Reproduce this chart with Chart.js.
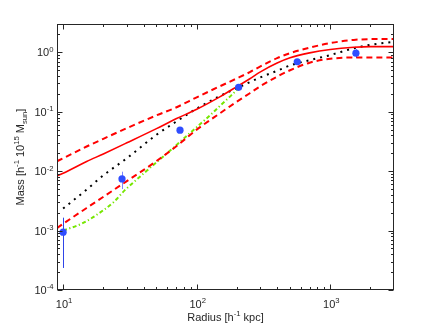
<!DOCTYPE html>
<html lang="en">
  <head>
    <meta charset="UTF-8" />
    <title>Mass profile</title>
    <script src="https://cdn.jsdelivr.net/npm/chart.js"></script>
    <style>
      html, body { margin: 0; padding: 0; background: #fff; }
      canvas { display: block; }
    </style>
  </head>
  <body>
    <canvas id="massChart" width="436" height="328"></canvas>

    <script>
      // best fit + 1 sigma band (red)
      const radiusFit = [9, 10, 15, 20, 30, 50, 70, 100, 150, 200, 250, 300, 400, 500, 700, 1000, 1500, 2000, 3000];
      const massBest  = [0.0083, 0.0092, 0.0145, 0.0195, 0.030, 0.052, 0.076, 0.11, 0.18, 0.265, 0.36, 0.47, 0.66, 0.81, 0.98, 1.12, 1.22, 1.25, 1.25];
      const massUpper = [0.0147, 0.0165, 0.026, 0.035, 0.053, 0.087, 0.118, 0.175, 0.27, 0.365, 0.465, 0.58, 0.80, 0.97, 1.20, 1.43, 1.62, 1.67, 1.68];
      const massLower = [0.0011, 0.0013, 0.0024, 0.0037, 0.0068, 0.0148, 0.026, 0.050, 0.095, 0.148, 0.205, 0.27, 0.39, 0.50, 0.67, 0.78, 0.82, 0.82, 0.82];

      // black dotted
      const radiusDot = [10, 15, 20, 30, 50, 70, 100, 150, 200, 250, 300, 400, 500, 700, 1000, 1500, 2000, 3000];
      const massDot   = [0.00235, 0.0049, 0.0085, 0.0165, 0.041, 0.068, 0.113, 0.185, 0.25, 0.315, 0.38, 0.49, 0.60, 0.74, 0.90, 1.17, 1.34, 1.50];

      // green dash-dot
      const radiusGreen = [10, 14, 20, 24, 29, 35, 43, 53, 63, 80, 100, 125, 150, 180, 210];
      const massGreen   = [0.0010, 0.00133, 0.0022, 0.00305, 0.0048, 0.0070, 0.0105, 0.0158, 0.022, 0.0355, 0.055, 0.086, 0.127, 0.185, 0.26];

      // measurements (blue)
      const radiusObs = [10, 27.6, 75, 206, 566, 1556];
      const massObs   = [0.00094, 0.0074, 0.049, 0.258, 0.695, 0.97];
      const errLow    = [0.000235, 0.0050, null, null, null, 0.80];
      const errHigh   = [0.00165, 0.0098, null, null, null, 1.12];

      const xMajorTicks = [10, 100, 1000];
      const xTickExp = ['1', '2', '3'];
      const yMajorTicks = [1e-4, 1e-3, 1e-2, 1e-1, 1];
      const yTickExp = ['-4', '-3', '-2', '-1', '0'];

      const FONT = "'Liberation Sans', Arial, sans-serif";
      const INK = '#262626';
      const FONT_SIZE = 11;

      function toXY(xs, ys) {
        return xs.map((r, i) => ({ x: r, y: ys[i] }));
      }

      function minorTicks(lo, hi) {
        const out = [];
        for (let d = 1e-5; d < 1e5; d *= 10) {
          for (let m = 2; m <= 9; m++) {
            const v = m * d;
            if (v > lo * 1.001 && v < hi * 0.999) out.push(v);
          }
        }
        return out;
      }

      // text with sup / sub parts
      function richWidth(ctx, parts, size) {
        let w = 0;
        parts.forEach(p => {
          ctx.font = (p.sup || p.sub ? size * 0.7 : size) + "px " + FONT;
          w += ctx.measureText(p.t).width;
        });
        return w;
      }
      function drawRich(ctx, parts, size, x, y) {
        let cx = x;
        parts.forEach(p => {
          const s = p.sup || p.sub ? size * 0.7 : size;
          ctx.font = s + "px " + FONT;
          const dy = p.sup ? -size * 0.42 : (p.sub ? size * 0.3 : 0);
          ctx.fillText(p.t, cx, y + dy);
          cx += ctx.measureText(p.t).width;
        });
      }

      const errorBars = {
        id: 'errorBars',
        beforeDatasetsDraw(chart) {
          const { ctx, scales: { x, y } } = chart;
          ctx.save();
          radiusObs.forEach((r, i) => {
            if (errLow[i] == null) return;
            const px = Math.round(x.getPixelForValue(r)) + 0.5;
            ctx.strokeStyle = i === 1 ? '#7d86ff' : '#2f45e8';
            ctx.lineWidth = 1;
            ctx.beginPath();
            ctx.moveTo(px, y.getPixelForValue(errLow[i]));
            ctx.lineTo(px, y.getPixelForValue(errHigh[i]));
            ctx.stroke();
          });
          ctx.restore();
        }
      };

      const boxAxes = {
        id: 'boxAxes',
        afterDraw(chart) {
          const { ctx, chartArea: a, scales: { x, y } } = chart;
          const L = Math.round(a.left) + 0.5, R = Math.round(a.right) - 0.5;
          const T = Math.round(a.top) + 0.5, B = Math.round(a.bottom) - 0.5;
          ctx.save();
          ctx.strokeStyle = INK;
          ctx.lineWidth = 1;
          ctx.strokeRect(L, T, R - L, B - T);

          ctx.beginPath();
          const xt = (v, len) => {
            const px = Math.round(x.getPixelForValue(v)) + 0.5;
            ctx.moveTo(px, B); ctx.lineTo(px, B - len);
            ctx.moveTo(px, T); ctx.lineTo(px, T + len);
          };
          const yt = (v, len) => {
            const py = Math.round(y.getPixelForValue(v)) + 0.5;
            ctx.moveTo(L, py); ctx.lineTo(L + len, py);
            ctx.moveTo(R, py); ctx.lineTo(R - len, py);
          };
          xMajorTicks.forEach(v => xt(v, 5));
          minorTicks(x.min, x.max).forEach(v => xt(v, 2.5));
          yMajorTicks.forEach(v => yt(v, 5));
          minorTicks(y.min, y.max).forEach(v => yt(v, 2.5));
          ctx.stroke();

          ctx.fillStyle = INK;
          ctx.textBaseline = 'alphabetic';
          ctx.textAlign = 'left';
          const size = FONT_SIZE;

          xMajorTicks.forEach((v, i) => {
            const parts = [{ t: '10' }, { t: xTickExp[i], sup: true }];
            const w = richWidth(ctx, parts, size);
            drawRich(ctx, parts, size, x.getPixelForValue(v) - w / 2 + 1, B + 18);
          });
          yMajorTicks.forEach((v, i) => {
            const parts = [{ t: '10' }, { t: yTickExp[i], sup: true }];
            const w = richWidth(ctx, parts, size);
            drawRich(ctx, parts, size, L - 4 - w, y.getPixelForValue(v) + 4);
          });

          const xTitle = [{ t: 'Radius [h' }, { t: '-1', sup: true }, { t: ' kpc]' }];
          const xw = richWidth(ctx, xTitle, size);
          drawRich(ctx, xTitle, size, (L + R) / 2 - xw / 2, B + 31);

          const yTitle = [{ t: 'Mass [h' }, { t: '-1', sup: true }, { t: ' 10' }, { t: '15', sup: true },
                          { t: ' M' }, { t: 'sun', sub: true }, { t: ']' }];
          const yw = richWidth(ctx, yTitle, size);
          ctx.translate(24, (T + B) / 2);
          ctx.rotate(-Math.PI / 2);
          drawRich(ctx, yTitle, size, -yw / 2, 0);
          ctx.restore();
        }
      };

      const lineBase = { showLine: true, pointRadius: 0, fill: false, cubicInterpolationMode: 'monotone' };

      new Chart(document.getElementById('massChart').getContext('2d'), {
        type: 'scatter',
        data: {
          datasets: [
            { label: 'data', data: toXY(radiusObs, massObs), pointRadius: 3.6, pointBackgroundColor: '#2f4dff',
              pointBorderColor: '#2f4dff', pointBorderWidth: 0, showLine: false },
            { ...lineBase, label: 'best', data: toXY(radiusFit, massBest), borderColor: '#ff0000', borderWidth: 1.6 },
            { ...lineBase, label: 'upper', data: toXY(radiusFit, massUpper), borderColor: '#ff0000', borderWidth: 2, borderDash: [6, 4] },
            { ...lineBase, label: 'lower', data: toXY(radiusFit, massLower), borderColor: '#ff0000', borderWidth: 2, borderDash: [6, 4] },
            { ...lineBase, label: 'gas', data: toXY(radiusGreen, massGreen), borderColor: '#76e600', borderWidth: 2, borderDash: [4, 2.5, 1.2, 2.5] },
            { ...lineBase, label: 'nfw', data: toXY(radiusDot, massDot), borderColor: '#000000', borderWidth: 2, borderDash: [2, 5] }
          ]
        },
        options: {
          responsive: false,
          animation: false,
          layout: { padding: { left: 57, right: 42, top: 24, bottom: 38 } },
          plugins: { legend: { display: false }, tooltip: { enabled: false } },
          scales: {
            x: { type: 'logarithmic', min: 9, max: 3000, display: false },
            y: { type: 'logarithmic', min: 1e-4, max: 3, display: false }
          }
        },
        plugins: [errorBars, boxAxes]
      });
    </script>
  </body>
</html>
